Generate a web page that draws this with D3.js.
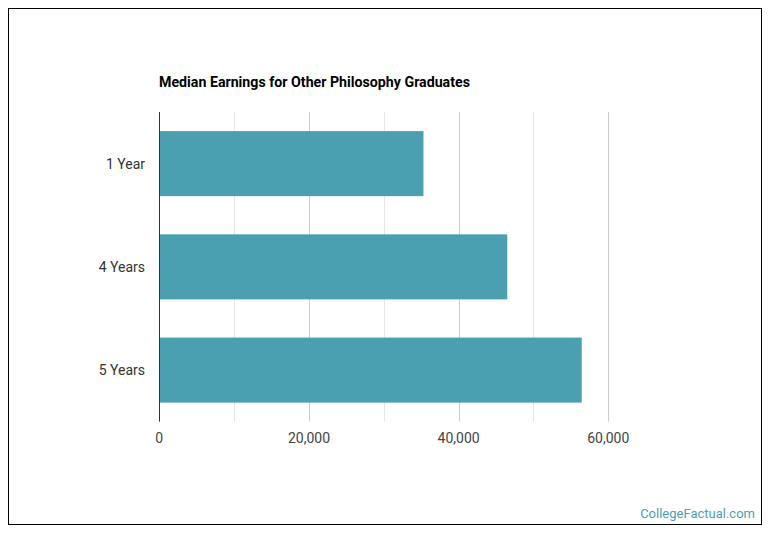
<!DOCTYPE html>
<html><head><meta charset="utf-8">
<script src="https://cdn.jsdelivr.net/npm/d3@7"></script>
<style>body{margin:0;background:#fff;font-family:Roboto,sans-serif;}</style>
</head><body>
<svg id="c" width="770" height="536"></svg>
<script>
const categories = ["1 Year", "4 Years", "5 Years"];
const earnings = [35300, 46500, 56450];
const tickValues = [0, 20000, 40000, 60000];
const gridValues = [0, 10000, 20000, 30000, 40000, 50000, 60000];
const title = "Median Earnings for Other Philosophy Graduates";

const svg = d3.select("#c");
svg.append("rect").attr("x",8.5).attr("y",8.5).attr("width",753).attr("height",516)
  .attr("fill","#fff").attr("stroke","#000").attr("stroke-width",1);

const x = d3.scaleLinear().domain([0,60000]).range([159.3,608.3]);
const y = d3.scaleBand().domain(categories).range([112,421.7]).paddingInner(0.37).paddingOuter(0.185);

svg.append("text").attr("x",159).attr("y",87).attr("font-size",14.2).attr("font-weight","bold")
  .attr("fill","#000").text(title);

svg.append("g").selectAll("line").data(gridValues.filter(d=>d>0)).join("line")
  .attr("x1",d=>Math.round(x(d))+0.5).attr("x2",d=>Math.round(x(d))+0.5)
  .attr("y1",112).attr("y2",421.7).attr("stroke",d=>d%20000===0?"#ccc":"#e6e6e6").attr("stroke-width",1);

svg.append("g").selectAll("rect").data(categories).join("rect")
  .attr("x",x(0)).attr("y",d=>y(d)).attr("width",(d,i)=>x(earnings[i])-x(0))
  .attr("height",y.bandwidth()).attr("fill","#4aa0b1");

svg.append("line").attr("x1",159.5).attr("x2",159.5).attr("y1",112).attr("y2",421.7)
  .attr("stroke","#333").attr("stroke-width",1);

svg.append("g").selectAll("text").data(categories).join("text")
  .attr("x",145).attr("y",d=>y(d)+y.bandwidth()/2).attr("dy","0.35em")
  .attr("text-anchor","end").attr("font-size",14).attr("fill","#333").text(d=>d);

const fmt = d3.format(",");
svg.append("g").selectAll("text").data(tickValues).join("text")
  .attr("x",d=>x(d)).attr("y",438).attr("dy","0.35em").attr("text-anchor","middle")
  .attr("font-size",14).attr("fill","#444").text(d=>fmt(d));

svg.append("text").attr("x",755).attr("y",518).attr("text-anchor","end")
  .attr("font-size",13).attr("fill","#4aa0b1").text("CollegeFactual.com");
</script>
</body></html>
